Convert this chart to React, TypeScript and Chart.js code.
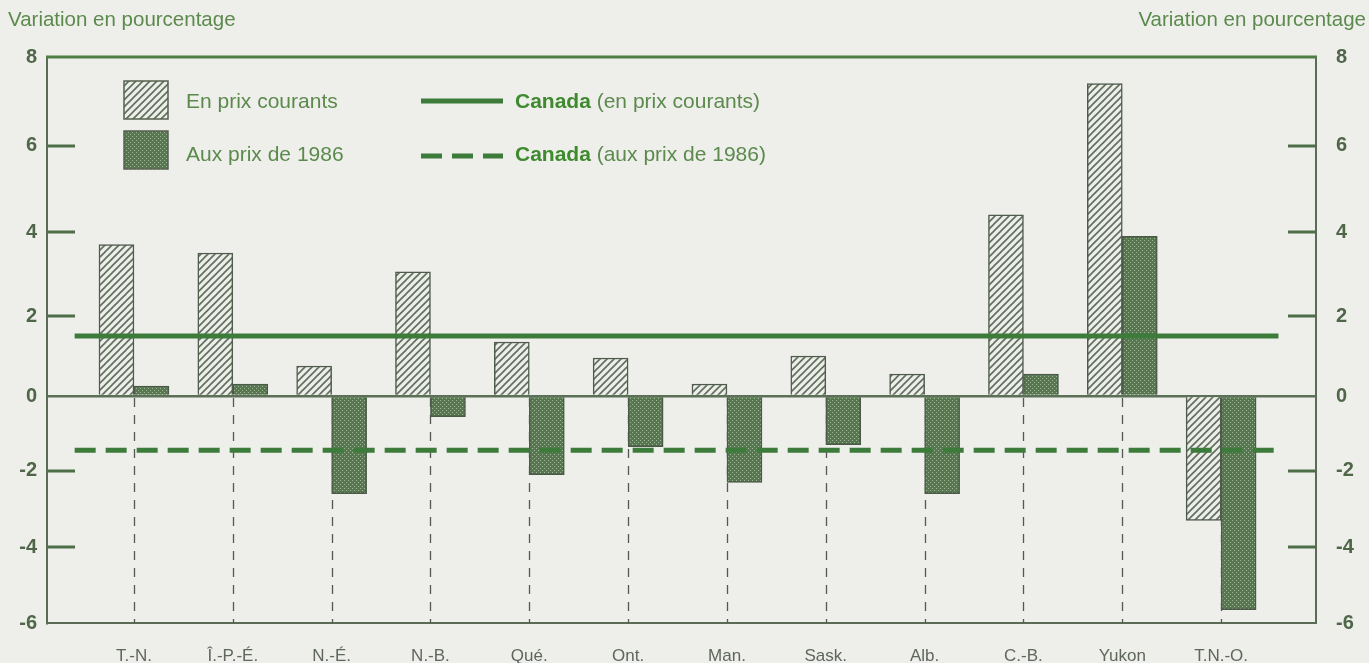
import React, { useEffect, useRef } from 'react';
import { Chart, registerables, LinearScale } from 'chart.js';

Chart.register(...registerables);

// ---- data ----
const categories = ['T.-N.', 'Î.-P.-É.', 'N.-É.', 'N.-B.', 'Qué.', 'Ont.', 'Man.', 'Sask.', 'Alb.', 'C.-B.', 'Yukon', 'T.N.-O.'];
const enPrixCourants = [3.7, 3.5, 0.75, 3.05, 1.35, 0.95, 0.3, 1.0, 0.55, 4.4, 7.4, -3.3];
const auxPrix1986 = [0.25, 0.3, -2.6, -0.55, -2.1, -1.35, -2.3, -1.3, -2.6, 0.55, 3.9, -5.65];
const canadaCourants = 1.5;
const canada1986 = -1.45;
const yTickValues = [8, 6, 4, 2, 0, -2, -4, -6];
const seriesLabels = ['En prix courants', 'Aux prix de 1986'];
const canadaBold = 'Canada';
const canadaRest = [' (en prix courants)', ' (aux prix de 1986)'];
const axisTitle = 'Variation en pourcentage';

// ---- style constants ----
const Y_MIN = -6;
const Y_MAX = 8;
const X_MIN = -0.88;
const X_MAX = 11.96;
const CANADA_SPAN = [-0.6, 11.58];
// fractional height of each tick in the (slightly uneven) printed axis, bottom = 0
const TICK_FRACTIONS = [0, 0.1343, 0.2686, 0.401, 0.5424, 0.6908, 0.8428, 1];
const FONT = '"Liberation Sans", Arial, Helvetica, sans-serif';
const GREEN_TEXT = '#5b8a4c';
const CANADA_GREEN = '#3f8a2f';
const LINE_GREEN = '#3d7b3b';
const FRAME = '#5a6b56';
const TICK_TEXT = '#4f6649';
const CAT_TEXT = '#5f675d';
const BG = '#eeeeeb';

const knotValues = [...yTickValues].sort((a, b) => a - b);

class PrintedLinearScale extends (LinearScale as any) {
  static id = 'printedLinear';
  static defaults = (LinearScale as any).defaults;
  toDecimal(v: number) {
    if (v <= knotValues[0]) {
      const k = (TICK_FRACTIONS[1] - TICK_FRACTIONS[0]) / (knotValues[1] - knotValues[0]);
      return TICK_FRACTIONS[0] + (v - knotValues[0]) * k;
    }
    for (let i = 0; i < knotValues.length - 1; i++) {
      if (v <= knotValues[i + 1]) {
        const t = (v - knotValues[i]) / (knotValues[i + 1] - knotValues[i]);
        return TICK_FRACTIONS[i] + t * (TICK_FRACTIONS[i + 1] - TICK_FRACTIONS[i]);
      }
    }
    const n = knotValues.length - 1;
    const k = (TICK_FRACTIONS[n] - TICK_FRACTIONS[n - 1]) / (knotValues[n] - knotValues[n - 1]);
    return TICK_FRACTIONS[n] + (v - knotValues[n]) * k;
  }
  getPixelForValue(value: number) {
    if (value === null || value === undefined || isNaN(value)) return NaN;
    return (this as any).getPixelForDecimal(this.toDecimal(value));
  }
  getValueForPixel(pixel: number) {
    const d = (this as any).getDecimalForPixel(pixel);
    for (let i = 0; i < TICK_FRACTIONS.length - 1; i++) {
      if (d <= TICK_FRACTIONS[i + 1] || i === TICK_FRACTIONS.length - 2) {
        const t = (d - TICK_FRACTIONS[i]) / (TICK_FRACTIONS[i + 1] - TICK_FRACTIONS[i]);
        return knotValues[i] + t * (knotValues[i + 1] - knotValues[i]);
      }
    }
    return 0;
  }
}
Chart.register(PrintedLinearScale as any);

function makeHatch(): CanvasPattern {
  const s = 7;
  const c = document.createElement('canvas');
  c.width = s;
  c.height = s;
  const g = c.getContext('2d')!;
  g.fillStyle = '#eceee8';
  g.fillRect(0, 0, s, s);
  g.strokeStyle = '#626d5f';
  g.lineWidth = 1.6;
  g.beginPath();
  g.moveTo(0, s);
  g.lineTo(s, 0);
  g.moveTo(-s / 2, s / 2);
  g.lineTo(s / 2, -s / 2);
  g.moveTo(s / 2, s * 1.5);
  g.lineTo(s * 1.5, s / 2);
  g.stroke();
  return g.createPattern(c, 'repeat')!;
}

function makeDots(): CanvasPattern {
  const s = 4;
  const c = document.createElement('canvas');
  c.width = s;
  c.height = s;
  const g = c.getContext('2d')!;
  g.fillStyle = '#57784f';
  g.fillRect(0, 0, s, s);
  g.fillStyle = '#a3b59e';
  g.fillRect(0, 0, 1, 1);
  g.fillRect(2, 2, 1, 1);
  return g.createPattern(c, 'repeat')!;
}

export default function App() {
  const ref = useRef<HTMLCanvasElement>(null);

  useEffect(() => {
    const canvas = ref.current!;
    const hatch = makeHatch();
    const dots = makeDots();

    const deco = {
      id: 'deco',
      beforeDatasetsDraw(chart: any) {
        const { ctx, chartArea: a } = chart;
        const xs = chart.scales.x;
        const ys = chart.scales.y;
        ctx.save();
        ctx.strokeStyle = '#545a53';
        ctx.lineWidth = 1.3;
        ctx.setLineDash([9, 8]);
        const y0 = ys.getPixelForValue(0);
        categories.forEach((_, i) => {
          const px = Math.round(xs.getPixelForValue(i)) + 0.5;
          ctx.beginPath();
          ctx.moveTo(px, y0 + 2);
          ctx.lineTo(px, a.bottom);
          ctx.stroke();
        });
        ctx.setLineDash([]);
        ctx.strokeStyle = '#4d6e47';
        ctx.lineWidth = 3;
        yTickValues.forEach((t) => {
          if (t === Y_MAX || t === Y_MIN || t === 0) return;
          const py = ys.getPixelForValue(t);
          ctx.beginPath();
          ctx.moveTo(a.left, py);
          ctx.lineTo(a.left + 28, py);
          ctx.moveTo(a.right - 28, py);
          ctx.lineTo(a.right, py);
          ctx.stroke();
        });
        ctx.restore();
      },
      afterDraw(chart: any) {
        const { ctx, chartArea: a } = chart;
        ctx.save();
        ctx.strokeStyle = '#4f7f45';
        ctx.lineWidth = 3;
        ctx.beginPath();
        ctx.moveTo(a.left - 1, a.top);
        ctx.lineTo(a.right + 1, a.top);
        ctx.stroke();

        ctx.fillStyle = GREEN_TEXT;
        ctx.font = `20.5px ${FONT}`;
        ctx.textBaseline = 'alphabetic';
        ctx.textAlign = 'left';
        ctx.fillText(axisTitle, 8, 26);
        ctx.textAlign = 'right';
        ctx.fillText(axisTitle, 1366, 26);

        const sw = [
          { y: 81, fill: hatch },
          { y: 131, fill: dots },
        ];
        sw.forEach((s) => {
          ctx.fillStyle = s.fill;
          ctx.fillRect(124, s.y, 44, 38);
          ctx.strokeStyle = '#55624f';
          ctx.lineWidth = 1.5;
          ctx.strokeRect(124, s.y, 44, 38);
        });
        ctx.textAlign = 'left';
        ctx.textBaseline = 'middle';
        ctx.font = `21px ${FONT}`;
        ctx.fillStyle = GREEN_TEXT;
        ctx.fillText(seriesLabels[0], 186, 102);
        ctx.fillText(seriesLabels[1], 186, 155);

        ctx.strokeStyle = LINE_GREEN;
        ctx.lineWidth = 5;
        ctx.beginPath();
        ctx.moveTo(421, 101);
        ctx.lineTo(503, 101);
        ctx.stroke();
        ctx.setLineDash([21, 10]);
        ctx.beginPath();
        ctx.moveTo(421, 156);
        ctx.lineTo(503, 156);
        ctx.stroke();
        ctx.setLineDash([]);

        [102, 155].forEach((ty, i) => {
          ctx.font = `bold 21px ${FONT}`;
          ctx.fillStyle = CANADA_GREEN;
          ctx.fillText(canadaBold, 515, ty);
          const w = ctx.measureText(canadaBold).width;
          ctx.font = `21px ${FONT}`;
          ctx.fillStyle = GREEN_TEXT;
          ctx.fillText(canadaRest[i], 515 + w, ty);
        });
        ctx.restore();
      },
    };

    const yCommon = {
      type: 'printedLinear',
      min: Y_MIN,
      max: Y_MAX,
      afterBuildTicks: (s: any) => {
        s.ticks = yTickValues.map((v) => ({ value: v }));
      },
      border: { display: true, color: FRAME, width: 2 },
    };

    const chart = new Chart(canvas, {
      type: 'bar',
      data: {
        datasets: [
          {
            type: 'bar',
            label: seriesLabels[0],
            data: enPrixCourants.map((v, i) => ({ x: i, y: v })),
            backgroundColor: hatch,
            borderColor: '#4f5c4c',
            borderWidth: 1.5,
            barThickness: 35,
            order: 1,
            xAxisID: 'x',
            yAxisID: 'y',
          },
          {
            type: 'bar',
            label: seriesLabels[1],
            data: auxPrix1986.map((v, i) => ({ x: i, y: v })),
            backgroundColor: dots,
            borderColor: '#4a5a47',
            borderWidth: 1.5,
            barThickness: 35,
            order: 1,
            xAxisID: 'x',
            yAxisID: 'y',
          },
          {
            type: 'line',
            label: canadaBold + canadaRest[0],
            data: CANADA_SPAN.map((x) => ({ x, y: canadaCourants })),
            borderColor: LINE_GREEN,
            borderWidth: 5,
            pointRadius: 0,
            fill: false,
            order: 0,
            xAxisID: 'x',
            yAxisID: 'y',
          },
          {
            type: 'line',
            label: canadaBold + canadaRest[1],
            data: CANADA_SPAN.map((x) => ({ x, y: canada1986 })),
            borderColor: LINE_GREEN,
            borderWidth: 5,
            borderDash: [21, 10],
            pointRadius: 0,
            fill: false,
            order: 0,
            xAxisID: 'x',
            yAxisID: 'y',
          },
        ] as any,
      },
      options: {
        animation: false,
        responsive: false,
        layout: { padding: { top: 57, left: 0, right: 0, bottom: 0 } },
        plugins: {
          legend: { display: false },
          tooltip: { enabled: false },
          title: { display: false },
        },
        scales: {
          x: {
            type: 'linear',
            position: 'bottom',
            min: X_MIN,
            max: X_MAX,
            offset: false,
            grid: { display: false, offset: false, drawTicks: false },
            border: { display: true, color: FRAME, width: 2 },
            afterBuildTicks: (s: any) => {
              s.ticks = categories.map((_, i) => ({ value: i }));
            },
            afterFit: (s: any) => {
              s.height = 40;
            },
            ticks: {
              autoSkip: false,
              maxRotation: 0,
              padding: 23,
              color: CAT_TEXT,
              font: { family: FONT, size: 17 },
              callback: (v: any) => categories[Math.round(v)] ?? '',
            },
          },
          y: {
            ...yCommon,
            position: 'left',
            afterFit: (s: any) => {
              s.width = 47;
            },
            grid: {
              drawTicks: false,
              lineWidth: 2.5,
              color: (c: any) => (c.tick && c.tick.value === 0 ? '#5c7058' : 'rgba(0,0,0,0)'),
            },
            ticks: {
              padding: 10,
              color: TICK_TEXT,
              font: { family: FONT, size: 20, weight: 'bold' },
            },
          },
          y2: {
            ...yCommon,
            position: 'right',
            afterFit: (s: any) => {
              s.width = 53;
            },
            grid: { display: false, drawTicks: false },
            ticks: {
              padding: 20,
              color: TICK_TEXT,
              font: { family: FONT, size: 20, weight: 'bold' },
            },
          },
        },
      } as any,
      plugins: [deco],
    });

    return () => chart.destroy();
  }, []);

  return (
    <div style={{ position: 'fixed', left: 0, top: 0, width: 1369, height: 663, background: BG }}>
      <canvas ref={ref} width={1369} height={663} style={{ display: 'block' }} />
    </div>
  );
}
